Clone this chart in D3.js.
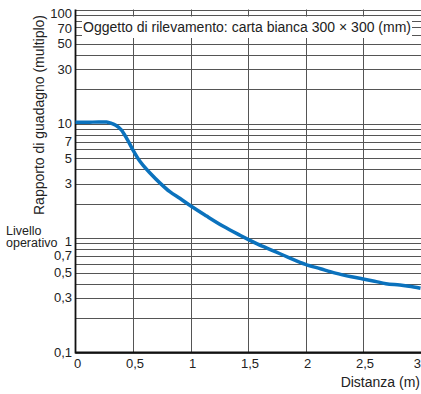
<!DOCTYPE html>
<html lang="it">
<head>
<meta charset="UTF-8">
<title>Rapporto di guadagno</title>
<script src="https://d3js.org/d3.v7.min.js"></script>
<style>
    body { margin: 0; background: #fff; }
    svg text { font-family: "Liberation Sans", Arial, sans-serif; fill: #222; }
</style>
</head>
<body>
<svg width="421" height="394"></svg>
<script>
// distanza (m) e rapporto di guadagno
const distanza = [0, 0.1, 0.2, 0.27, 0.3, 0.35, 0.4, 0.45, 0.5, 0.56, 0.65, 0.74, 0.82, 0.91, 1.0,
    1.14, 1.285, 1.43, 1.5, 1.58, 1.72, 1.85, 2.0, 2.13, 2.26, 2.4, 2.5, 2.6, 2.7, 2.82, 2.9, 3.0];
const guadagno = [10.3, 10.3, 10.4, 10.4, 10.2, 9.7, 8.8, 7.3, 5.9, 4.7, 3.7, 3.0, 2.55, 2.22, 1.92,
    1.56, 1.27, 1.06, 0.975, 0.89, 0.775, 0.68, 0.59, 0.54, 0.495, 0.46, 0.44, 0.42, 0.40, 0.389, 0.38, 0.365];

const xTicks = [0, 0.5, 1, 1.5, 2, 2.5, 3];
const yTicks = [0.1, 0.3, 0.5, 0.7, 1, 3, 5, 7, 10, 30, 50, 70, 100];
const yGrid = [0.1, 0.2, 0.3, 0.4, 0.5, 0.6, 0.7, 0.8, 0.9, 1, 2, 3, 4, 5, 6, 7, 8, 9, 10,
    20, 30, 40, 50, 60, 70, 80, 90, 100];

const fmt = v => String(v).replace(".", ",");

const svg = d3.select("svg");
const pLeft = 75.5, pRight = 420.5, pTop = 9.5, pBottom = 352.5;

const x = d3.scaleLinear().domain([0, 3]).range([pLeft, pRight]);
const y = d3.scaleLog().domain([0.1, 100]).range([pBottom, pTop]);

// griglia
svg.append("g")
    .selectAll("line")
    .data(yGrid)
    .enter().append("line")
    .attr("x1", pLeft).attr("x2", 421)
    .attr("y1", d => Math.round(y(d)) + 0.5)
    .attr("y2", d => Math.round(y(d)) + 0.5)
    .attr("stroke", "#555").attr("stroke-width", 1);

svg.append("g")
    .selectAll("line")
    .data(xTicks.slice(1))
    .enter().append("line")
    .attr("x1", d => Math.round(x(d)) + 0.5)
    .attr("x2", d => Math.round(x(d)) + 0.5)
    .attr("y1", pTop).attr("y2", pBottom)
    .attr("stroke", "#555").attr("stroke-width", 1);

// riquadro dell'oggetto di rilevamento
svg.append("rect")
    .attr("x", 82).attr("y", 16.5)
    .attr("width", 330).attr("height", 21.5)
    .attr("fill", "#fff");
svg.append("text")
    .attr("x", 83).attr("y", 31.5)
    .style("font-size", "14px")
    .text("Oggetto di rilevamento: carta bianca 300 × 300 (mm)");

// assi
svg.append("line")
    .attr("x1", pLeft).attr("x2", pLeft).attr("y1", pTop).attr("y2", pBottom + 1)
    .attr("stroke", "#111").attr("stroke-width", 1.8);
svg.append("line")
    .attr("x1", pLeft).attr("x2", 421).attr("y1", pBottom).attr("y2", pBottom)
    .attr("stroke", "#111").attr("stroke-width", 1.8);

// etichette asse y
const yShift = { 100: 3.5, 70: 1.5, 1: 3 };
svg.append("g")
    .selectAll("text")
    .data(yTicks)
    .enter().append("text")
    .attr("x", 72)
    .attr("y", d => y(d) + (yShift[d] || 0))
    .attr("dy", "0.35em")
    .attr("text-anchor", "end")
    .style("font-size", "13px")
    .text(fmt);

// etichette asse x
svg.append("g")
    .selectAll("text")
    .data(xTicks)
    .enter().append("text")
    .attr("x", d => d === 3 ? 421 : x(d) + 2)
    .attr("y", 368)
    .attr("text-anchor", d => d === 3 ? "end" : "middle")
    .style("font-size", "13px")
    .text(fmt);

svg.append("text")
    .attr("x", 420).attr("y", 387)
    .attr("text-anchor", "end")
    .style("font-size", "14px")
    .text("Distanza (m)");

svg.append("text")
    .attr("transform", "translate(43.5,115) rotate(-90)")
    .attr("text-anchor", "middle")
    .style("font-size", "14px")
    .text("Rapporto di guadagno (multiplo)");

svg.append("text")
    .attr("x", 6).attr("y", 234.5)
    .style("font-size", "12.5px")
    .text("Livello");
svg.append("text")
    .attr("x", 6).attr("y", 247)
    .style("font-size", "12.5px")
    .text("operativo");

// curva
const line = d3.line()
    .x((d, i) => x(distanza[i]))
    .y(d => y(d))
    .curve(d3.curveMonotoneX);

svg.append("path")
    .datum(guadagno)
    .attr("d", line)
    .attr("fill", "none")
    .attr("stroke", "#0b72bd")
    .attr("stroke-width", 3.5)
    .attr("stroke-linejoin", "round");
</script>
</body>
</html>
